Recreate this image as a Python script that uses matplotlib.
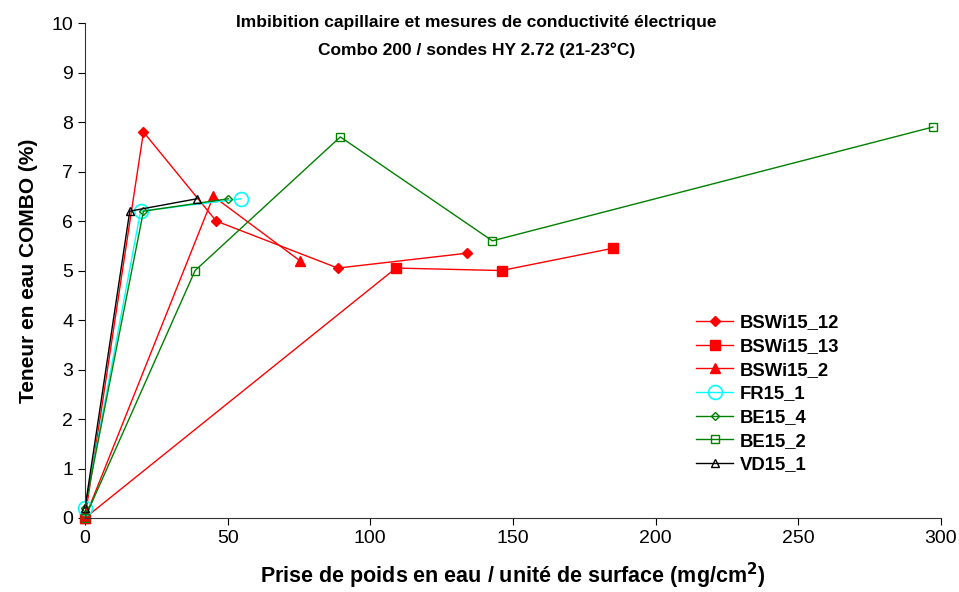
import matplotlib.pyplot as plt

plt.rcParams['font.family'] = ['Liberation Sans', 'DejaVu Sans']

# data
bswi15_12_x = [0, 20.5, 46, 88.6, 133.8]
bswi15_12_y = [0, 7.8, 6.0, 5.05, 5.35]
bswi15_13_x = [0, 109, 146, 185]
bswi15_13_y = [0, 5.05, 5.0, 5.45]
bswi15_2_x = [0, 45, 75.3]
bswi15_2_y = [0, 6.5, 5.2]
fr15_1_x = [0, 19.5, 54.6]
fr15_1_y = [0.2, 6.2, 6.45]
be15_4_x = [0, 20.5, 50.2]
be15_4_y = [0.2, 6.2, 6.45]
be15_2_x = [0, 38.6, 89.5, 142.8, 297.2]
be15_2_y = [0, 5.0, 7.7, 5.6, 7.9]
vd15_1_x = [0, 15.7, 39.2]
vd15_1_y = [0.2, 6.2, 6.45]

fig = plt.figure(figsize=(9.59, 5.92), dpi=100)
ax = fig.add_axes([0.0886, 0.125, 0.8925, 0.836])

lw = 1.0
ax.plot(bswi15_12_x, bswi15_12_y, color='red', lw=lw, marker='D', ms=5, label='BSWi15_12')
ax.plot(bswi15_13_x, bswi15_13_y, color='red', lw=lw, marker='s', ms=7, label='BSWi15_13')
ax.plot(bswi15_2_x, bswi15_2_y, color='red', lw=lw, marker='^', ms=7, label='BSWi15_2')
ax.plot(fr15_1_x, fr15_1_y, color='cyan', lw=lw, marker='o', ms=10, mfc='none', mew=1.2, label='FR15_1')
ax.plot(be15_4_x, be15_4_y, color='green', lw=lw, marker='D', ms=4, mfc='none', label='BE15_4')
ax.plot(be15_2_x, be15_2_y, color='green', lw=lw, marker='s', ms=6, mfc='none', label='BE15_2')
ax.plot(vd15_1_x, vd15_1_y, color='black', lw=lw, marker='^', ms=6, mfc='none', label='VD15_1')

ax.set_xlim(0, 300)
ax.set_ylim(0, 10)
ax.set_xticks(range(0, 301, 50))
ax.set_yticks(range(0, 11))
ax.tick_params(labelsize=14, direction='out', length=5)
ax.spines['top'].set_visible(False)
ax.spines['right'].set_visible(False)
for s in ['left', 'bottom']:
    ax.spines[s].set_color('#333333')
for line in ax.lines:
    line.set_clip_on(False)

ax.set_xlabel('Prise de poids en eau / unité de surface (mg/cm$^\\mathbf{2}$)', fontsize=15.5, fontweight='bold', labelpad=10)
ax.set_ylabel('Teneur en eau COMBO (%)', fontsize=15, fontweight='bold', labelpad=10)

# title, two lines
fig.text(0.497, 1 - 22 / 592, 'Imbibition capillaire et mesures de conductivité électrique',
         ha='center', va='center', fontsize=12.5, fontweight='bold')
fig.text(0.497, 1 - 50 / 592, 'Combo 200 / sondes HY 2.72 (21-23°C)',
         ha='center', va='center', fontsize=12.5, fontweight='bold')

leg = ax.legend(loc='upper left', bbox_to_anchor=(0.695, 0.445), frameon=False,
                prop={'weight': 'bold', 'size': 13.3}, handlelength=2.0, handletextpad=0.35,
                labelspacing=0.36)

fig.savefig('out.png', dpi=100)
